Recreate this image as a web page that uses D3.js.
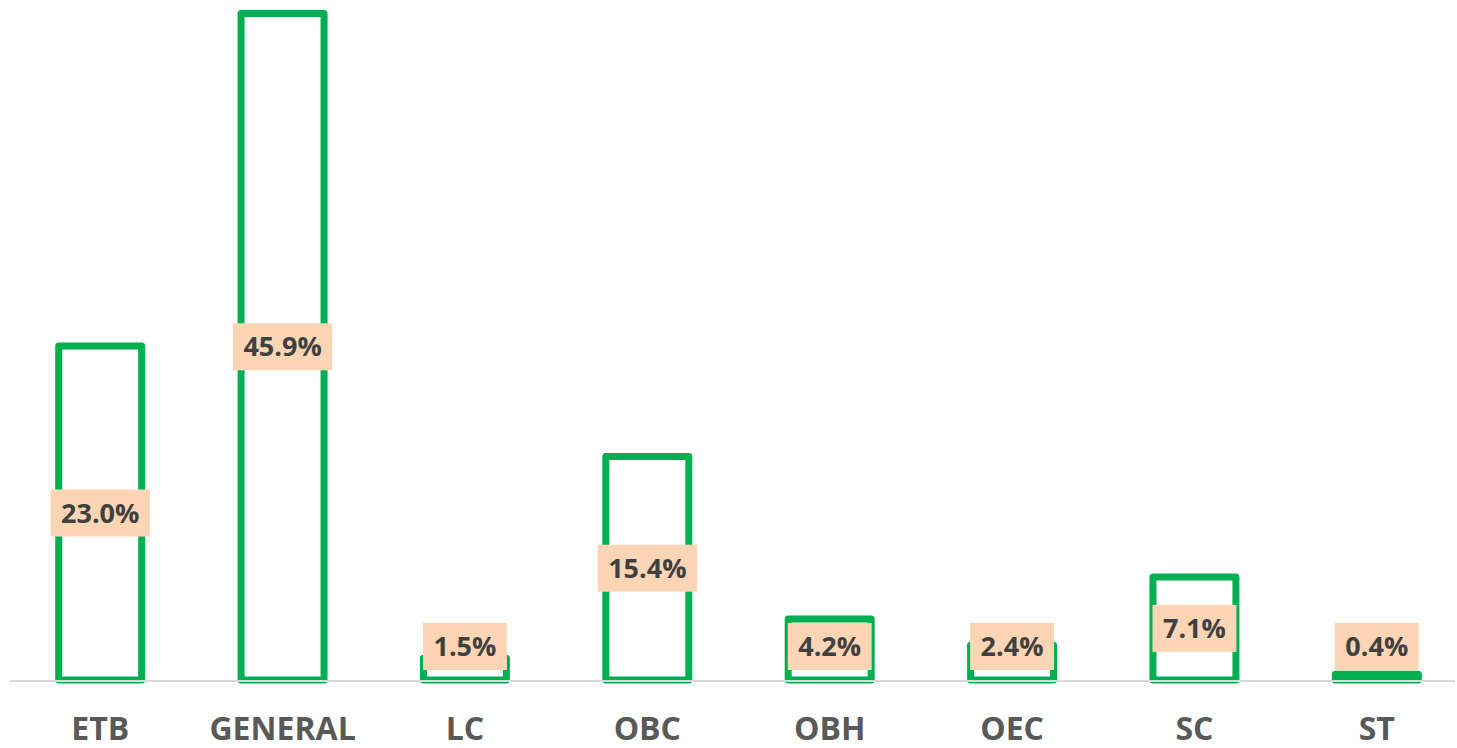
<!DOCTYPE html>
<html>
<head>
<meta charset="utf-8">
<script src="https://cdn.jsdelivr.net/npm/d3@7"></script>
<style>
  body { margin: 0; background: #fff; }
  text { font-family: "Open Sans", "Liberation Sans", sans-serif; font-weight: bold; }
</style>
</head>
<body>
<div id="chart"></div>
<script>
let width = 1457
let height = 748

let categories = ["ETB", "GENERAL", "LC", "OBC", "OBH", "OEC", "SC", "ST"]
let values = [23.0, 45.9, 1.5, 15.4, 4.2, 2.4, 7.1, 0.4]

let baseY = 680
let topY = 13.5

let svg = d3.select("#chart")
            .append("svg")
            .attr("width", width)
            .attr("height", height)

let xScale = d3.scaleBand()
               .domain(categories)
               .range([9, 1468])
               .paddingInner(0.545)
               .paddingOuter(0.2725)

let yScale = d3.scaleLinear()
               .domain([0, 45.9])
               .range([baseY, topY])

let data = categories.map((c, i) => ({cat: c, val: values[i]}))

// -- bars, outline only
svg.selectAll(".bar")
   .data(data)
   .enter()
   .append("rect")
   .attr("class", "bar")
   .attr("x", d => xScale(d.cat))
   .attr("width", xScale.bandwidth())
   .attr("y", d => yScale(d.val))
   .attr("height", d => baseY - yScale(d.val))
   .attr("fill", "#fff")
   .attr("stroke", "#00B050")
   .attr("stroke-width", 7)
   .attr("stroke-linejoin", "round")

// -- baseline
svg.append("line")
   .attr("x1", 10)
   .attr("x2", 1455)
   .attr("y1", baseY + 1)
   .attr("y2", baseY + 1)
   .attr("stroke", "#d9d9d9")
   .attr("stroke-width", 2)

// -- x axis labels
let xAxis = d3.axisBottom(xScale).tickSize(0).tickPadding(0)
let gx = svg.append("g")
            .attr("transform", `translate(0, ${baseY + 60})`)
            .call(xAxis)
gx.select(".domain").remove()
gx.selectAll("text")
  .attr("dy", 0)
  .attr("fill", "#595959")
  .style("font-size", "32px")

// -- data labels
let labels = svg.selectAll(".lbl")
                .data(data)
                .enter()
                .append("g")
                .attr("class", "lbl")
                .attr("transform", d => {
                  let cy = Math.min((yScale(d.val) + baseY) / 2, baseY - 33.5)
                  return `translate(${xScale(d.cat) + xScale.bandwidth() / 2}, ${cy})`
                })

labels.append("rect")
  .attr("fill", "#FCD5B5")

labels.append("text")
  .attr("text-anchor", "middle")
  .attr("dy", "0.36em")
  .attr("fill", "#404040")
  .style("font-size", "27px")
  .text(d => d.val.toFixed(1) + "%")

labels.each(function() {
  let g = d3.select(this)
  let w = g.select("text").node().getComputedTextLength()
  g.select("rect")
   .attr("x", -w / 2 - 10.5)
   .attr("width", w + 21)
   .attr("y", -23.5)
   .attr("height", 47)
})
</script>
</body>
</html>
